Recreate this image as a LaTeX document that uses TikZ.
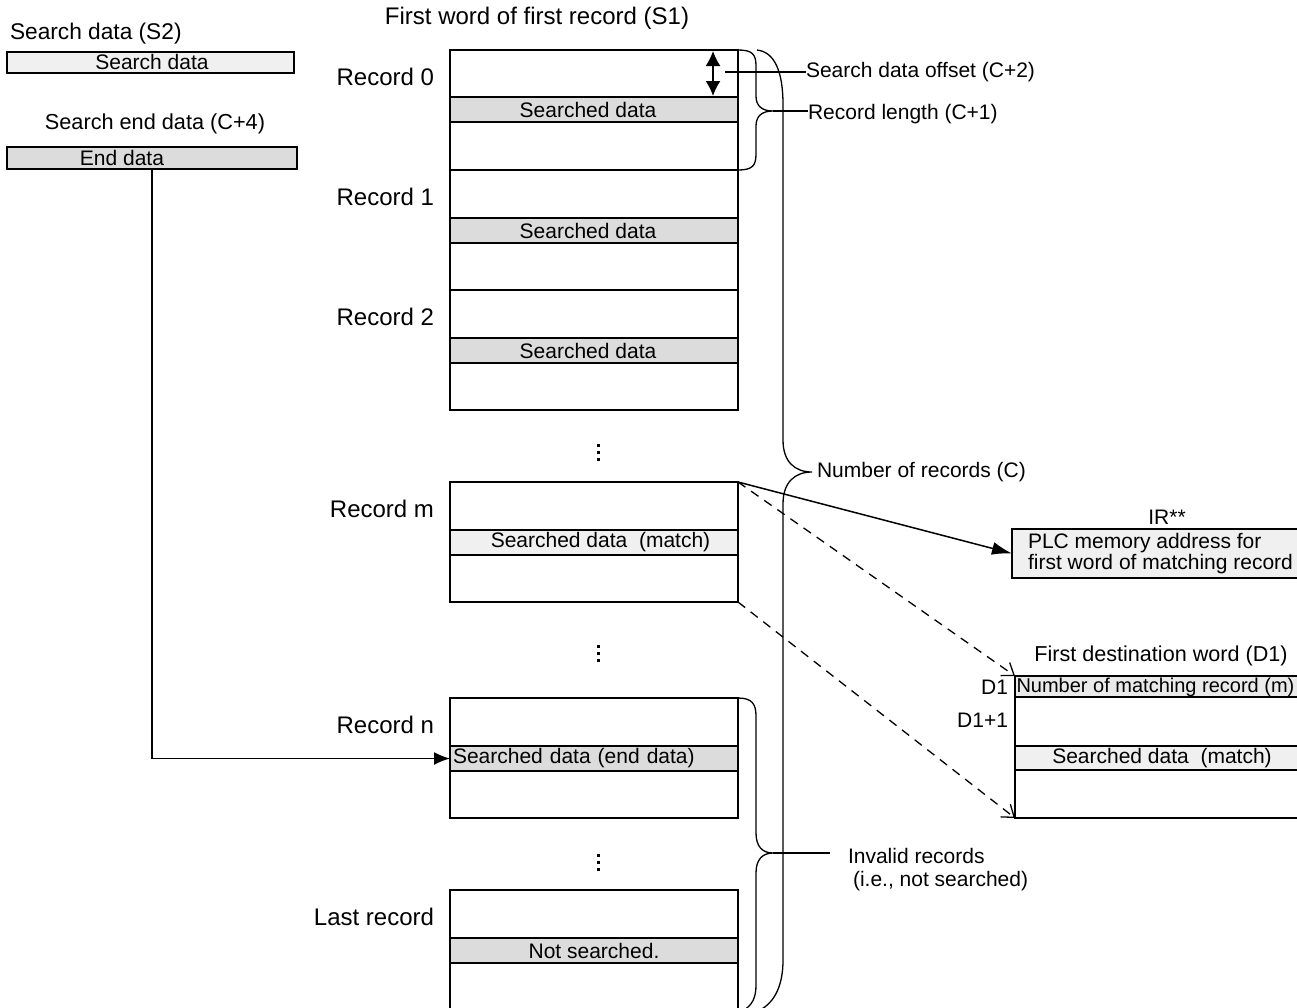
\documentclass[tikz,border=0pt]{standalone}
\usepackage{fontspec}
\setmainfont{Liberation Sans}
\usetikzlibrary{arrows.meta}
\definecolor{bandgray}{HTML}{DCDCDC}
\definecolor{lightband}{HTML}{F0F0F0}
\begin{document}
\begin{tikzpicture}[x=1pt,y=-1pt,
  font=\fontsize{21}{25}\selectfont,
  every node/.style={inner sep=0pt, outer sep=0pt},
  recbox/.style={draw, line width=1.4pt, minimum width=288pt, minimum height=120pt, anchor=north west},
  bandbox/.style={fill=bandgray, minimum width=288pt, minimum height=25pt, anchor=north west},
  bandline/.style={line width=2.8pt},
  lbl/.style={anchor=east, font=\fontsize{24}{28}\selectfont},
  brace/.style={line width=1.3pt},
  conn/.style={line width=1.5pt},
  dashconn/.style={line width=1.3pt, dashed, dash pattern=on 9pt off 7pt, -{Straight Barb[length=11pt,width=16pt,line width=1.3pt]}},
]
\useasboundingbox (0,0) rectangle (1297,1007);
\clip (0,0) rectangle (1297,1007);

% ---- top-left inputs
\node[anchor=west, font=\fontsize{22.7}{26}\selectfont] (s2lbl) at (10,34) {Search data (S2)};
\node[draw, line width=1.4pt, fill=lightband, minimum width=287pt, minimum height=21pt, anchor=north west] (sdata) at (7,52) {};
\node (sdatat) at (152,62) {Search data};
\node[font=\fontsize{21.7}{25}\selectfont] (c4lbl) at (155,124) {Search end data (C+4)};
\node[draw, line width=1.4pt, fill=bandgray, minimum width=290pt, minimum height=22pt, anchor=north west] (edata) at (7,147) {};
\node (edatat) at (122,158) {End data};

% ---- title
\node[font=\fontsize{24}{28}\selectfont] (s1lbl) at (537,18) {First word of first record (S1)};

% ---- records
\node[recbox] (r0) at (450,50) {};
\node[bandbox] (b0) at (450,97) {\hspace*{-12pt}Searched data};
\node[recbox] (r1) at (450,170) {};
\node[bandbox] (b1) at (450,218) {\hspace*{-12pt}Searched data};
\node[recbox] (r2) at (450,290) {};
\node[bandbox] (b2) at (450,338) {\hspace*{-12pt}Searched data};
\node[recbox] (rm) at (450,482) {};
\node[bandbox, fill=lightband] (bm) at (450,530) {\hspace*{13pt}Searched data\ \ (match)};
\node[recbox] (rn) at (450,698) {};
\node[bandbox, text width=282pt, align=left, inner xsep=3pt] (bn) at (450,746) {Searched data (end data)};
\node[recbox, minimum height=140pt] (rl) at (450,890) {};
\node[bandbox] (bl) at (450,938) {Not searched.};

\foreach \b in {b0,b1,b2,bm,bn,bl}{
  \draw[bandline] (\b.north west) -- (\b.north east) (\b.south west) -- (\b.south east);
}
\foreach \r in {r0,r1,r2,rm,rn,rl}{
  \draw[line width=1.4pt] (\r.north west) rectangle (\r.south east);
}

\node[lbl] (l0) at (434,77) {Record 0};
\node[lbl] (l1) at (434,197) {Record 1};
\node[lbl] (l2) at (434,317) {Record 2};
\node[lbl] (lm) at (434,509) {Record m};
\node[lbl] (ln) at (434,725) {Record n};
\node[lbl] (ll) at (434,917) {Last record};

% ---- vertical dots
\foreach \yy in {452,653,862}{
  \fill (596.5,\yy-8.5) rectangle +(3,3);
  \fill (596.5,\yy-1.5) rectangle +(3,3);
  \fill (596.5,\yy+5.5) rectangle +(3,3);
}

% ---- offset arrow
\coordinate (offA) at (713,51);
\coordinate (offB) at (713,96);
\draw[conn, {Latex[length=15pt,width=15pt]}-{Latex[length=15pt,width=15pt]}] (offA) -- (offB);
\node[anchor=west] (offlbl) at (806,72) {Search data offset (C+2)};
\coordinate (offL) at (725,72);
\draw[line width=1.3pt] (offL) -- (offlbl.west);

% ---- record length brace
\draw[brace] (738,50) .. controls (752,50) and (756,54) .. (756,66) -- (756,96)
  .. controls (756,106) and (762,111) .. (773,111)
  .. controls (762,111) and (756,116) .. (756,126) -- (756,154)
  .. controls (756,166) and (752,170) .. (738,170);
\coordinate (rlTip) at (773,111);
\node[anchor=west] (rllbl) at (808,114) {Record length (C+1)};
\draw[line width=1.3pt] (rlTip) -- (rllbl.west |- rlTip);

% ---- number of records brace
\draw[brace] (757,50) .. controls (774,52) and (783,70) .. (783,105) -- (783,440)
  .. controls (783,462) and (795,472) .. (812,472)
  .. controls (795,472) and (783,482) .. (783,504) -- (783,960)
  .. controls (783,985) and (775,1002) .. (760,1010);
\node[anchor=west] (nrlbl) at (817,472) {Number of records (C)};

% ---- invalid records brace
\draw[brace] (738,698) .. controls (752,698) and (756,704) .. (756,716) -- (756,833)
  .. controls (756,846) and (762,853) .. (773,853)
  .. controls (762,853) and (756,860) .. (756,873) -- (756,985)
  .. controls (756,998) and (752,1005) .. (744,1010);
\coordinate (ivTip) at (773,853);
\coordinate (ivEnd) at (830,853);
\draw[line width=1.3pt] (ivTip) -- (ivEnd);
\node[anchor=west] (ivlbl1) at (848,856) {Invalid records};
\node[anchor=west] (ivlbl2) at (853,881) {(i.e., not searched)};

% ---- IR box
\node (irlbl) at (1167,517) {IR**};
\node[draw, line width=1.4pt, fill=lightband, minimum width=300pt, minimum height=49pt, anchor=north west] (ir) at (1012,529) {};
\node[anchor=west] (irt1) at (1028,543) {PLC memory address for};
\node[anchor=west] (irt2) at (1028,564) {first word of matching record};

% ---- D1 box
\node[font=\fontsize{21.6}{25}\selectfont] (d1lbl) at (1161,656) {First destination word (D1)};
\node[draw, line width=1.4pt, minimum width=300pt, minimum height=142pt, anchor=north west] (d1) at (1015,676) {};
\node[fill=bandgray!60, minimum width=300pt, minimum height=21pt, anchor=north west] (d1r0) at (1015,676) {};
\node[anchor=west, font=\fontsize{20}{24}\selectfont] (d1r0t) at (1016.5,687) {Number of matching record (m)};
\node[fill=lightband, minimum width=300pt, minimum height=24pt, anchor=north west] (d1b) at (1015,746) {};
\node (d1bt) at (1162,758) {Searched data\ \ (match)};
\draw[line width=1.4pt] (d1.north west) rectangle (d1.south east);
\draw[bandline] (d1r0.south west) -- (d1r0.south east);
\draw[bandline] (d1b.north west) -- (d1b.north east) (d1b.south west) -- (d1b.south east);
\node[anchor=east] (d1a) at (1008,687) {D1};
\node[anchor=east] (d1c) at (1008,720) {D1+1};

% ---- connectors
\draw[conn, -{Latex[length=20pt,width=13pt]}] (rm.north east) -- (ir.west);
\draw[dashconn] (rm.north east) -- (d1.north west);
\draw[dashconn] (rm.south east) -- (d1.south west);
\draw[conn, -{Latex[length=16pt,width=13pt]}] (edata.south) |- (bn.west);

\end{tikzpicture}
\end{document}
